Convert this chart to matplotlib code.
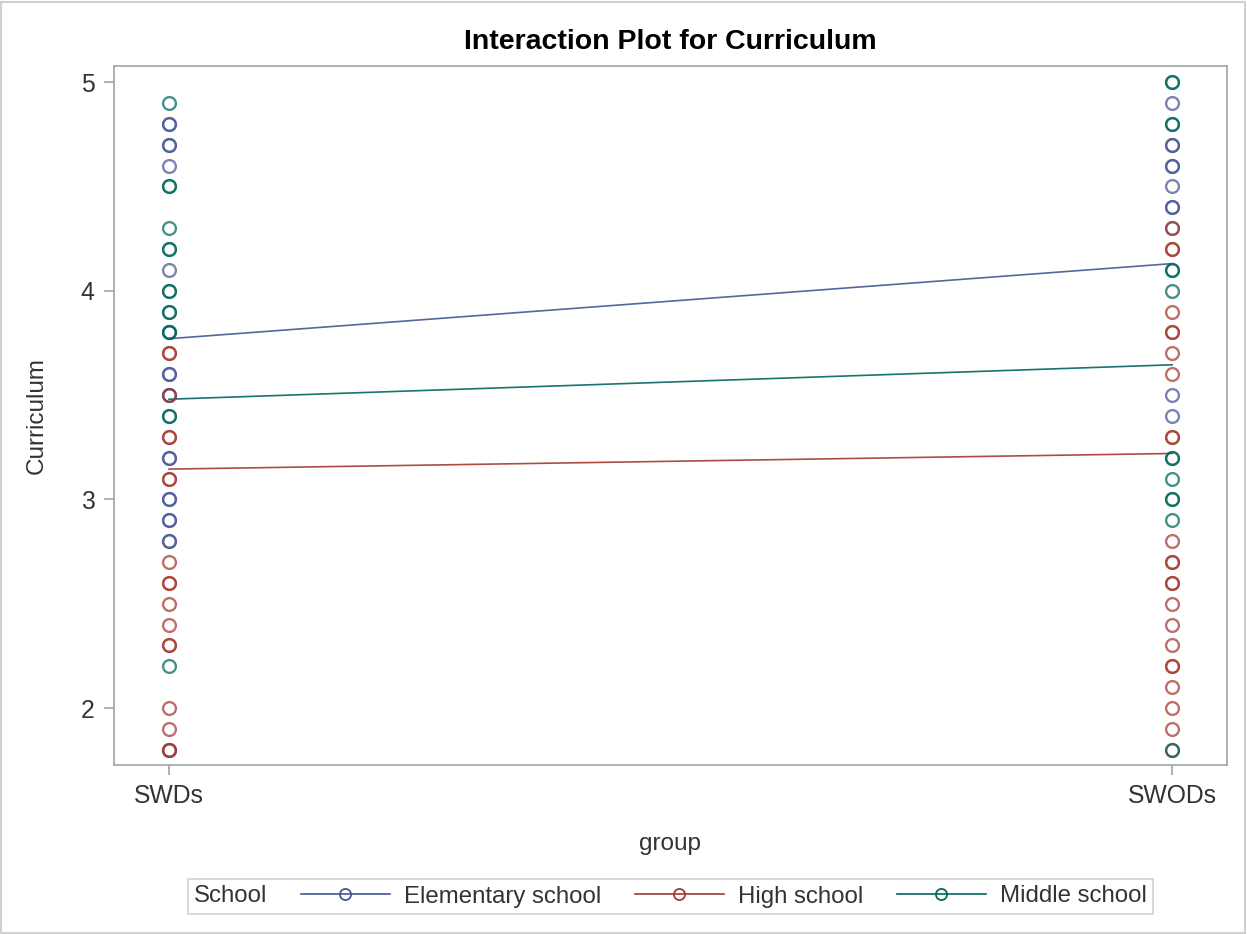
import matplotlib
matplotlib.use("Agg")
import matplotlib.pyplot as plt
from matplotlib.lines import Line2D

plt.rcParams["font.family"] = ["Liberation Sans", "DejaVu Sans"]

groups = ["SWDs", "SWODs"]
schools = ["Elementary school", "High school", "Middle school"]
colors = ["#445694", "#A23A2E", "#01665E"]

# observed Curriculum scores per school, one list per group (repeats = stacked obs)
elem_swds = [4.8, 4.8, 4.7, 4.7, 4.6, 4.1, 3.8, 3.6, 3.6, 3.5, 3.5, 3.2, 3.2,
             3.0, 3.0, 2.9, 2.9, 2.8, 2.8, 1.8]
elem_swods = [4.9, 4.7, 4.7, 4.6, 4.6, 4.5, 4.4, 4.4, 4.3, 3.5, 3.4]
high_swds = [3.7, 3.7, 3.5, 3.3, 3.3, 3.1, 3.1, 2.7, 2.6, 2.6, 2.5, 2.4, 2.3,
             2.3, 2.0, 1.9, 1.8, 1.8]
high_swods = [4.3, 4.2, 4.2, 3.9, 3.8, 3.8, 3.7, 3.6, 3.3, 3.3, 2.8, 2.7, 2.7,
              2.6, 2.6, 2.5, 2.4, 2.3, 2.2, 2.2, 2.1, 2.0, 1.9, 1.8]
mid_swds = [4.9, 4.5, 4.5, 4.3, 4.2, 4.2, 4.0, 4.0, 3.9, 3.9, 3.8, 3.8, 3.4,
            3.4, 2.2]
mid_swods = [5.0, 5.0, 4.8, 4.8, 4.1, 4.1, 4.0, 3.2, 3.2, 3.1, 3.0, 3.0, 2.9, 1.8]

# school means by group
elem_means = [3.77, 4.13]
high_means = [3.145, 3.22]
mid_means = [3.48, 3.645]

obs = [(elem_swds, elem_swods), (high_swds, high_swods), (mid_swds, mid_swods)]
means = [elem_means, high_means, mid_means]

fig = plt.figure(figsize=(12.47, 9.34), dpi=100)
ax = fig.add_axes([114 / 1247, 1 - 765 / 934, (1227 - 114) / 1247, (765 - 66) / 934])

xpos = list(range(len(groups)))
handles = []
for col, (a, b), m, name in zip(colors, obs, means, schools):
    ax.plot(xpos, m, color=col, lw=1.2, alpha=0.9, zorder=2)
    for x, vals in zip(xpos, (a, b)):
        ax.plot([x] * len(vals), vals, ls="none", marker="o", ms=9.2,
                mfc="none", mec=col, mew=1.7, alpha=0.72, zorder=3)
    handles.append(Line2D([], [], color=col, lw=1.2, marker="o", ms=8,
                          mfc="none", mec=col, mew=1.3, label=name))

ax.set_xlim(-0.0548, 1.0548)
ax.set_ylim(1.727, 5.077)
ax.set_xticks(xpos)
ax.set_xticklabels(groups)
ax.set_yticks([2, 3, 4, 5])
ax.set_yticklabels(["2", "3", "4", "5"])
for s in ax.spines.values():
    s.set_color("#A0A4A8")
    s.set_linewidth(1.2)
ax.tick_params(colors="#A0A4A8", labelcolor="#333333", labelsize=17.8,
               length=7, width=1.2, pad=7)
ax.set_xlabel("group", fontsize=17.5, color="#333333", labelpad=18)
ax.set_ylabel("Curriculum", fontsize=17.5, color="#333333", labelpad=24)
ax.set_title("Interaction Plot for Curriculum", fontsize=20.5, fontweight="bold",
             pad=12)

leg = fig.legend(handles=handles, loc="center", ncol=3,
                 bbox_to_anchor=(670.5 / 1247, 1 - 896.5 / 934),
                 title="School", fontsize=17.3, title_fontsize=17.3,
                 frameon=True, fancybox=False, edgecolor="#C8C8C8",
                 handlelength=3.7, handletextpad=0.6, columnspacing=0.75,
                 borderpad=0.25, borderaxespad=0)
leg.get_frame().set_linewidth(1.2)
leg.get_title().set_color("#333333")
for t in leg.get_texts():
    t.set_color("#333333")
# put the legend title on the same row as the entries
box = leg.get_children()[0]
title_box, entries = box.get_children()
box._children = [entries]
entries._children = [title_box] + entries.get_children()
entries.sep = 24

# outer border
fig.patches.append(plt.Rectangle((0.001, 0.001), 0.997, 0.997,
                                 transform=fig.transFigure, fill=False,
                                 ec="#D0D0D0", lw=1.5))

fig.savefig("out.png", dpi=100)
